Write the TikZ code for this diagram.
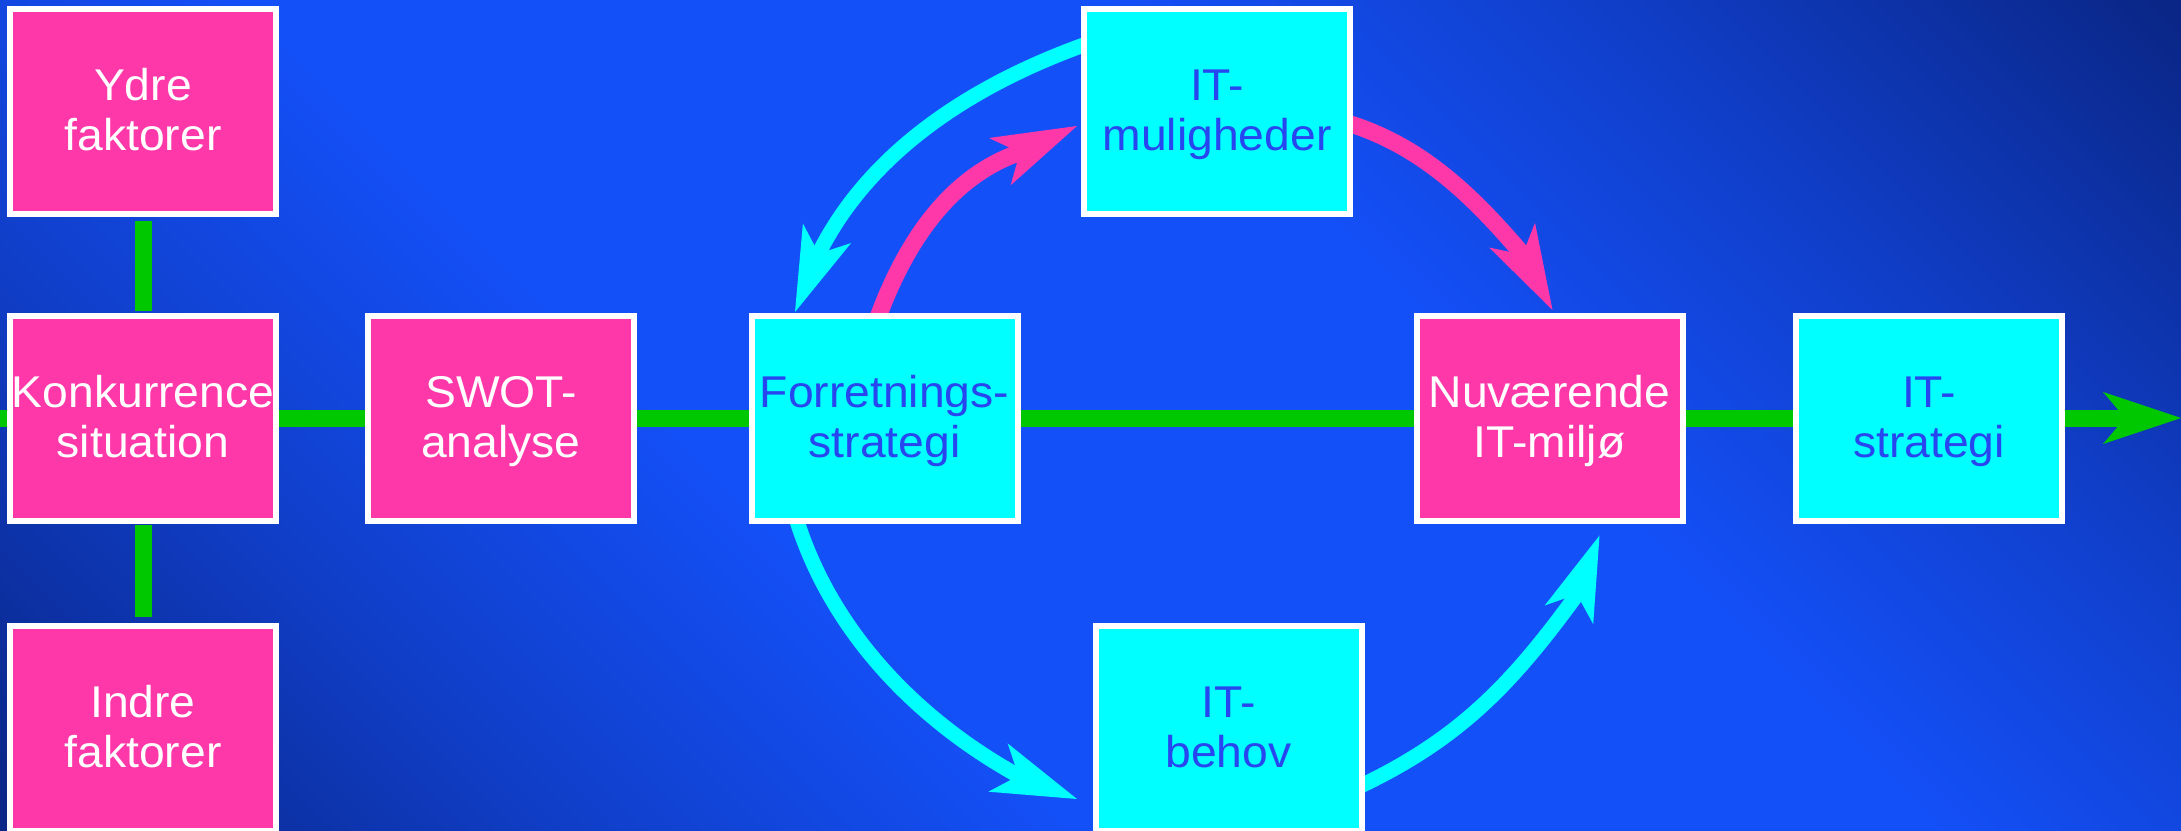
\documentclass[tikz,border=0pt]{standalone}
\usepackage{fontspec}
\setmainfont{Liberation Sans}[FakeStretch=1.04]
\usetikzlibrary{arrows.meta,calc}

% slide palette
\definecolor{bgdark}{RGB}{10,38,135}
\definecolor{bgmid}{RGB}{16,62,200}
\definecolor{bgbright}{RGB}{20,80,248}
\definecolor{boxpink}{RGB}{255,56,170}
\definecolor{boxcyan}{RGB}{0,255,255}
\definecolor{textblue}{RGB}{40,70,240}
\definecolor{flowgreen}{RGB}{0,200,0}

% blue backdrop, darker towards the lower-left and upper-right corners
\pgfdeclareverticalshading{slideshade}{100bp}{%
  color(0bp)=(bgdark); color(15bp)=(bgdark); color(28bp)=(bgmid);
  color(40bp)=(bgbright); color(60bp)=(bgbright); color(72bp)=(bgmid);
  color(85bp)=(bgdark); color(100bp)=(bgdark)}

\pgfdeclarelayer{backdrop}
\pgfdeclarelayer{links}
\pgfsetlayers{backdrop,links,main}

\tikzset{
  card/.style={draw=white, line width=6pt, minimum width=266pt,
    minimum height=205pt, inner sep=0pt, align=center,
    text height=88pt, text depth=10pt,
    font=\fontsize{44.5pt}{50pt}\selectfont},
  hot/.style={card, fill=boxpink, text=white},
  cool/.style={card, fill=boxcyan, text=textblue},
  flow/.style={draw=flowgreen, line width=17pt},
  bigtip/.style={-{Stealth[length=85pt,width=52pt,inset=22pt,line width=0pt]}},
  loopcyan/.style={draw=boxcyan, line width=15pt, bigtip},
  looppink/.style={draw=boxpink, line width=17pt, bigtip},
}

\begin{document}
\begin{tikzpicture}[x=1pt,y=-1pt]
\useasboundingbox (0,0) rectangle (2181,830);

\begin{pgfonlayer}{backdrop}
  \shade[shading=slideshade, shading angle=-45] (0,0) rectangle (2181,830);
\end{pgfonlayer}

% boxes
\node[hot]  (ydre)  at (143,111.5)    {Ydre\\faktorer};
\node[hot]  (konk)  at (143,418)      {Konkurrence\\situation};
\node[hot]  (indre) at (143,728.5)    {Indre\\faktorer};
\node[hot]  (swot)  at (501,418)      {SWOT-\\analyse};
\node[cool] (forr)  at (884.5,418)    {Forretnings-\\strategi};
\node[cool] (itm)   at (1217,111.5)   {IT-\\muligheder};
\node[hot]  (nuv)   at (1549.5,418)   {Nuværende\\IT-miljø};
\node[cool] (its)   at (1929,418)     {IT-\\strategi};
\node[cool] (itb)   at (1228.5,728.5) {IT-\\behov};

\coordinate (flowin)  at (0,418);
\coordinate (flowout) at (2181,418);

\begin{pgfonlayer}{links}
  % main process line
  \draw[flow, -{Stealth[length=78pt,width=52pt,inset=22pt,line width=0pt]}]
    (flowin) -- (konk.center) -- (swot.center) -- (forr.center)
    -- (nuv.center) -- (its.center) -- (flowout);
  \draw[flow, shorten <=4pt, shorten >=2pt] (ydre.south) -- (konk.north);
  \draw[flow, shorten <=1pt, shorten >=6pt] (konk.south) -- (indre.north);

  % IT cycle: each arc ends in a short straight run that carries the tip
  \draw[loopcyan] ($(itm.west)+(4,-67)$)
    .. controls +(-109.5,39.5) and +(52.4,-103.7) .. ($(forr.north west)+(70.6,-59.8)$)
    -- ($(forr.north west)+(46.5,-0.5)$);
  \draw[looppink] ($(forr.north)+(-6,3.5)$)
    .. controls +(26.4,-70.9) and +(-71.2,24.9) .. ($(itm.west)+(-62.1,41.3)$)
    -- ($(itm.west)+(-4,14.5)$);
  \draw[looppink] ($(itm.east)+(-4,12)$)
    .. controls +(74.5,23.4) and +(-47.7,-55.8) .. ($(nuv.north)+(-27.4,-58.8)$)
    -- ($(nuv.north)+(3,-2.5)$);
  \draw[loopcyan] ($(forr.south west)+(48,-4)$)
    .. controls +(35,111.4) and +(-102.1,-56.8) .. ($(itb.west)+(-75,46.8)$)
    -- ($(itb.west)+(-15.5,70.5)$);
  \draw[loopcyan] ($(itb.east)+(-4,57.5)$)
    .. controls +(99,-47.3) and +(-64.9,89.1) .. ($(nuv.south)+(27,71.7)$)
    -- ($(nuv.south)+(50,12)$);
\end{pgfonlayer}
\end{tikzpicture}
\end{document}
